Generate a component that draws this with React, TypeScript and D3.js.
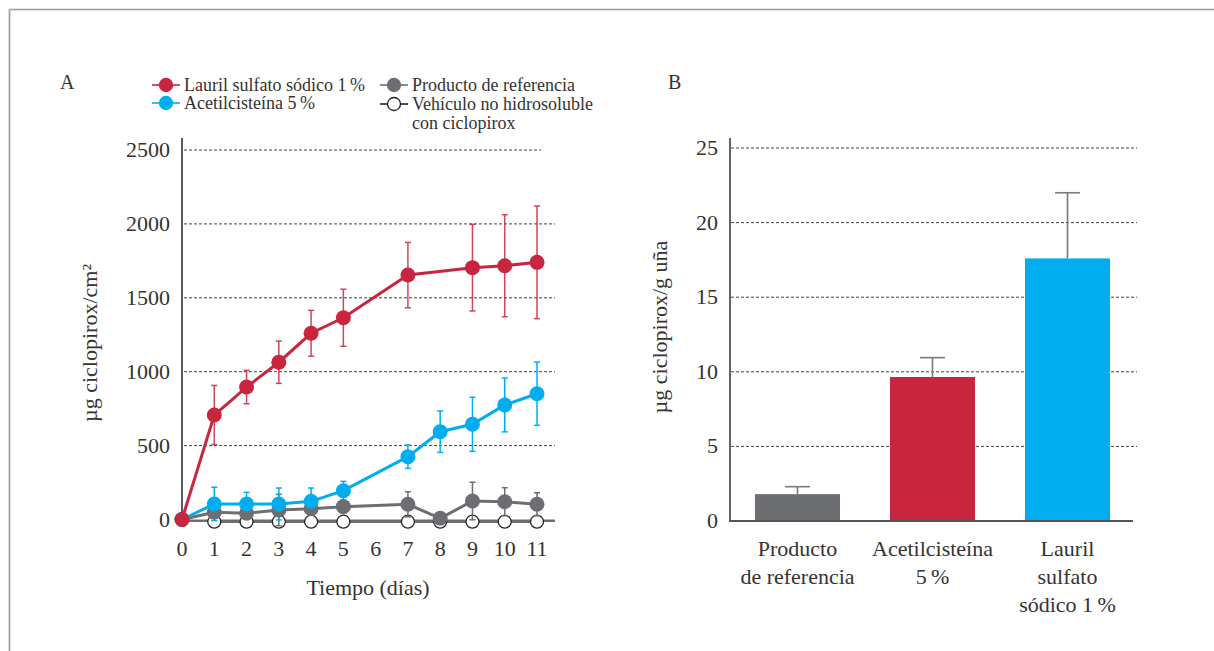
import React from "react";
import * as d3 from "d3";

// Panel A: ciclopirox permeation over time (µg/cm²)
const redDays = [0, 1, 2, 3, 4, 5, 7, 9, 10, 11];
const redMean = [0, 707, 896, 1064, 1260, 1365, 1654, 1704, 1717, 1740];
const redErr = [0, 200, 113, 143, 155, 193, 221, 293, 345, 381];

const otherDays = [0, 1, 2, 3, 4, 5, 7, 8, 9, 10, 11];
const blueMean = [0, 105, 105, 105, 123, 195, 425, 594, 644, 775, 851];
const blueErr = [0, 113, 79, 108, 90, 63, 79, 140, 183, 182, 214];
const grayMean = [0, 49, 42, 64, 73, 87, 103, 8, 125, 120, 103];
const grayErr = [0, 30, 25, 106, 30, 30, 85, 20, 127, 95, 78];

const vehicleDays = [1, 2, 3, 4, 5, 7, 8, 9, 10, 11];
const vehicleMean = [-15, -15, -15, -15, -15, -15, -15, -15, -15, -15];

const dayTicks = [0, 1, 2, 3, 4, 5, 6, 7, 8, 9, 10, 11];
const yTicksA = [0, 500, 1000, 1500, 2000, 2500];

// Panel B: ciclopirox content in nail (µg/g)
const barLabels = [
  ["Producto", "de referencia"],
  ["Acetilcisteína", "5\u2009%"],
  ["Lauril", "sulfato", "sódico 1\u2009%"],
];
const barValues = [1.8, 9.65, 17.6];
const barErr = [0.5, 1.3, 4.4];
const yTicksB = [0, 5, 10, 15, 20, 25];

const RED = "#c8253f";
const BLUE = "#00aeef";
const GRAY = "#6d6e71";
const FONT = "Liberation Serif, DejaVu Serif, serif";
const TEXT = "#333";

export default function App() {
  // ---- Panel A scales
  const xA = d3.scaleLinear().domain([0, 11]).range([182, 537]);
  const yA = d3.scaleLinear().domain([0, 2500]).range([519.5, 150]);

  const mkLine = (days: number[], vals: number[]) =>
    d3
      .line<number>()
      .x((_, i) => xA(days[i]))
      .y((v) => yA(v))(vals) || "";

  const errBars = (days: number[], vals: number[], errs: number[], color: string, key: string, opacity = 1) =>
    vals.map((v, i) =>
      errs[i] > 0 ? (
        <g key={key + i} stroke={color} strokeWidth={1.5} opacity={opacity}>
          <line x1={xA(days[i])} x2={xA(days[i])} y1={yA(v - errs[i])} y2={yA(v + errs[i])} />
          <line x1={xA(days[i]) - 3} x2={xA(days[i]) + 3} y1={yA(v + errs[i])} y2={yA(v + errs[i])} />
          <line x1={xA(days[i]) - 3} x2={xA(days[i]) + 3} y1={yA(v - errs[i])} y2={yA(v - errs[i])} />
        </g>
      ) : null
    );

  // ---- Panel B scales
  const xB = d3
    .scaleBand<number>()
    .domain(barValues.map((_, i) => i))
    .range([730, 1135])
    .paddingInner(0.37)
    .paddingOuter(0.185);
  const yB = d3.scaleLinear().domain([0, 25]).range([521, 148]);
  const barColors = [GRAY, RED, BLUE];

  const txt = { fontFamily: FONT, fill: TEXT } as React.CSSProperties;

  return (
    <svg
      width={1214}
      height={651}
      style={{ position: "fixed", left: 0, top: 0, background: "#fff", fontFamily: FONT }}
    >
      {/* frame */}
      <line x1={9.5} x2={1214} y1={9.5} y2={9.5} stroke="#9a9a9a" strokeWidth={1.6} />
      <line x1={9.5} x2={9.5} y1={9.5} y2={651} stroke="#9a9a9a" strokeWidth={1.6} />

      {/* ================= Panel A ================= */}
      <text x={60} y={89} fontSize={20} style={txt}>A</text>

      {/* legend */}
      {[
        { x: 152, y: 85, color: RED, fill: RED, label: ["Lauril sulfato sódico 1\u2009%"] },
        { x: 152, y: 103, color: BLUE, fill: BLUE, label: ["Acetilcisteína 5\u2009%"] },
        { x: 380, y: 85, color: GRAY, fill: GRAY, label: ["Producto de referencia"] },
        { x: 380, y: 104, color: "#222", fill: "#fff", label: ["Vehículo no hidrosoluble", "con ciclopirox"] },
      ].map((d, i) => (
        <g key={"lg" + i}>
          <line x1={d.x} x2={d.x + 28} y1={d.y} y2={d.y} stroke={d.color} strokeWidth={1.6} />
          <circle cx={d.x + 14} cy={d.y} r={6.5} fill={d.fill} stroke={d.fill === "#fff" ? "#222" : d.fill} strokeWidth={1.3} />
          {d.label.map((t, j) => (
            <text key={j} x={d.x + 32} y={d.y + 6 + j * 19} fontSize={18} style={txt}>
              {t}
            </text>
          ))}
        </g>
      ))}

      {/* gridlines */}
      {yTicksA.filter((t) => t > 0).map((t) => (
        <line
          key={"ga" + t}
          x1={184}
          x2={t === 2500 ? 541 : 555}
          y1={yA(t)}
          y2={yA(t)}
          stroke="#444"
          strokeWidth={1}
          strokeDasharray="3,2"
        />
      ))}

      {/* y axis */}
      <line x1={182} x2={182} y1={138} y2={521} stroke="#222" strokeWidth={1.5} />
      {yTicksA.map((t) => (
        <text key={"ta" + t} x={170} y={yA(t) + 7} fontSize={22} textAnchor="end" style={txt}>
          {t}
        </text>
      ))}
      <text
        transform={`translate(97,${343}) rotate(-90)`}
        fontSize={22}
        textAnchor="middle"
        style={txt}
      >
        µg ciclopirox/cm²
      </text>

      {/* x baseline */}
      <line x1={182} x2={555} y1={yA(-8)} y2={yA(-8)} stroke={GRAY} strokeWidth={2.5} />
      {dayTicks.map((t) => (
        <text key={"tx" + t} x={xA(t)} y={556} fontSize={22} textAnchor="middle" style={txt}>
          {t}
        </text>
      ))}
      <text x={368} y={595} fontSize={22} textAnchor="middle" style={txt}>
        Tiempo (días)
      </text>

      {/* vehicle series */}
      <path d={mkLine(vehicleDays, vehicleMean)} fill="none" stroke={GRAY} strokeWidth={2.5} />
      {vehicleMean.map((v, i) => (
        <circle key={"v" + i} cx={xA(vehicleDays[i])} cy={yA(v)} r={6.5} fill="#fff" stroke="#222" strokeWidth={1.3} />
      ))}

      {/* error bars */}
      {errBars(otherDays, grayMean, grayErr, GRAY, "eg")}
      {errBars(otherDays, blueMean, blueErr, BLUE, "eb")}
      {errBars(redDays, redMean, redErr, RED, "er", 0.85)}

      {/* reference product */}
      <path d={mkLine(otherDays, grayMean)} fill="none" stroke={GRAY} strokeWidth={3} />
      {grayMean.map((v, i) => (
        <circle key={"g" + i} cx={xA(otherDays[i])} cy={yA(v)} r={7.5} fill={GRAY} />
      ))}

      {/* acetylcysteine */}
      <path d={mkLine(otherDays, blueMean)} fill="none" stroke={BLUE} strokeWidth={3} />
      {blueMean.map((v, i) => (
        <circle key={"b" + i} cx={xA(otherDays[i])} cy={yA(v)} r={7.5} fill={BLUE} />
      ))}

      {/* sodium lauryl sulfate */}
      <path d={mkLine(redDays, redMean)} fill="none" stroke={RED} strokeWidth={3} />
      {redMean.map((v, i) => (
        <circle key={"r" + i} cx={xA(redDays[i])} cy={yA(v)} r={7.5} fill={RED} />
      ))}

      {/* ================= Panel B ================= */}
      <text x={668} y={89} fontSize={20} style={txt}>B</text>

      {yTicksB.filter((t) => t > 0).map((t) => (
        <line
          key={"gb" + t}
          x1={731}
          x2={1137}
          y1={yB(t)}
          y2={yB(t)}
          stroke="#444"
          strokeWidth={1}
          strokeDasharray="3,2"
        />
      ))}

      {/* error bars behind bars */}
      {barValues.map((v, i) => {
        const cx = (xB(i) as number) + xB.bandwidth() / 2;
        return (
          <g key={"eb" + i} stroke="#7a7a7a" strokeWidth={1.6}>
            <line x1={cx} x2={cx} y1={yB(v)} y2={yB(v + barErr[i])} />
            <line x1={cx - 12.5} x2={cx + 12.5} y1={yB(v + barErr[i])} y2={yB(v + barErr[i])} />
          </g>
        );
      })}

      {barValues.map((v, i) => (
        <rect
          key={"bar" + i}
          x={xB(i)}
          y={yB(v)}
          width={xB.bandwidth()}
          height={yB(0) - yB(v)}
          fill={barColors[i]}
        />
      ))}

      <line x1={730} x2={730} y1={138} y2={522} stroke="#555" strokeWidth={1.8} />
      <line x1={729} x2={1133} y1={521} y2={521} stroke="#555" strokeWidth={1.8} />

      {yTicksB.map((t) => (
        <text key={"tb" + t} x={718} y={yB(t) + 7} fontSize={22} textAnchor="end" style={txt}>
          {t}
        </text>
      ))}
      <text
        transform={`translate(667,${327}) rotate(-90)`}
        fontSize={22}
        textAnchor="middle"
        style={txt}
      >
        µg ciclopirox/g uña
      </text>

      {barLabels.map((lines, i) =>
        lines.map((t, j) => (
          <text
            key={"bl" + i + "-" + j}
            x={(xB(i) as number) + xB.bandwidth() / 2}
            y={556 + j * 28}
            fontSize={22}
            textAnchor="middle"
            style={txt}
          >
            {t}
          </text>
        ))
      )}
    </svg>
  );
}
